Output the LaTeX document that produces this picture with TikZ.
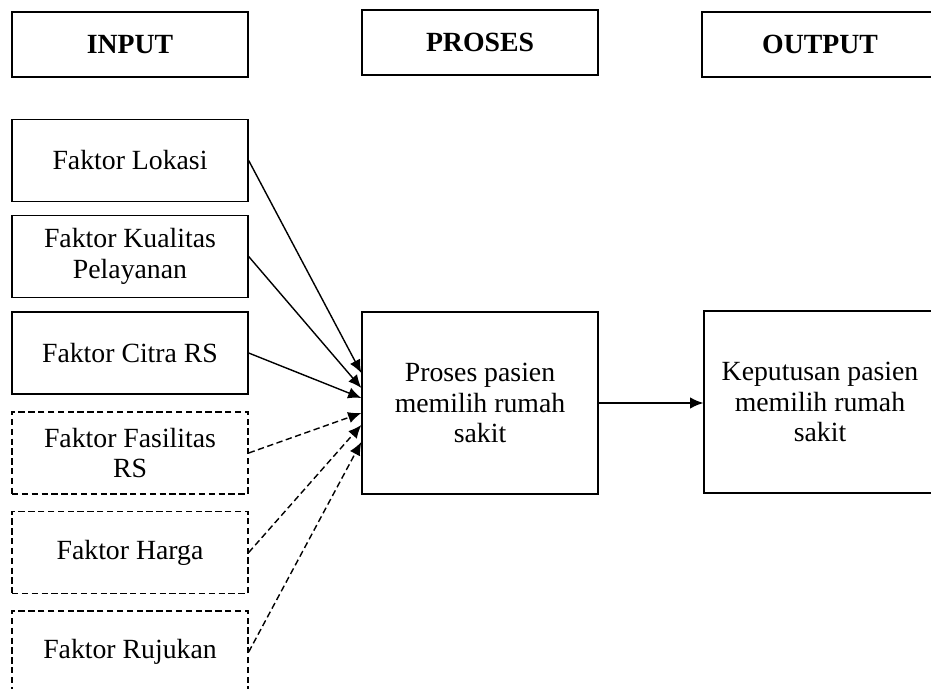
\documentclass[tikz,border=0pt]{standalone}
\usepackage{fontspec}
\setmainfont{Liberation Serif}
\usetikzlibrary{arrows.meta}

\begin{document}
\begin{tikzpicture}[> = {Latex[length=7.5pt,width=6.5pt]}, % arrow head style
	x=0.02cm, y=-0.02cm, % one unit = one pixel of the scan
	line width=0.8pt % line style
	,every node/.style={draw,rectangle,align=center,inner sep=0pt,
		font=\fontsize{15.8}{17.5}\selectfont},
	judul/.style={minimum width=4.72cm,minimum height=1.3cm,
		font=\fontsize{15.8}{17.5}\selectfont\bfseries},
	faktor/.style={minimum width=4.72cm,minimum height=1.64cm},
	putus/.style={dash pattern=on 3.6pt off 2pt}]
	\clip (0,0) rectangle (931,689);

	% column heads
	\node[judul] (input)  at (130,44.5) {INPUT};
	\node[judul] (proses) at (480,42.5) {PROSES};
	\node[judul] (output) at (820,44.5) {OUTPUT};

	% input factors
	\node[faktor] (lokasi)    at (130,160.5) {Faktor Lokasi};
	\node[faktor] (kualitas)  at (130,256.5) {Faktor Kualitas\\Pelayanan};
	\node[faktor] (citra)     at (130,353)   {Faktor Citra RS};
	\node[faktor,putus] (fasilitas) at (130,453)   {Faktor Fasilitas\\RS};
	\node[faktor,putus] (harga)     at (130,552.5) {Faktor Harga};
	\node[faktor,putus] (rujukan)   at (130,652)   {Faktor Rujukan};

	% process and output
	\node[minimum width=4.72cm,minimum height=3.64cm] (memilih) at (480,403)
		{Proses pasien\\memilih rumah\\sakit};
	\node[minimum width=4.64cm,minimum height=3.64cm] (keputusan) at (820,402)
		{Keputusan pasien\\memilih rumah\\sakit};

	\draw [->] (lokasi.east)   -- ([yshift=0.6cm]memilih.west);
	\draw [->] (kualitas.east) -- ([yshift=0.3cm]memilih.west);
	\draw [->] (citra.east)    -- ([yshift=0.1cm]memilih.west);
	\draw [->,putus] (fasilitas.east) -- ([yshift=-0.2cm]memilih.west);
	\draw [->,putus] (harga.east)     -- ([yshift=-0.44cm]memilih.west);
	\draw [->,putus] (rujukan.east)   -- ([yshift=-0.78cm]memilih.west);
	\draw [->] (memilih.east) -- (memilih.east -| keputusan.west);
\end{tikzpicture}
\end{document}
